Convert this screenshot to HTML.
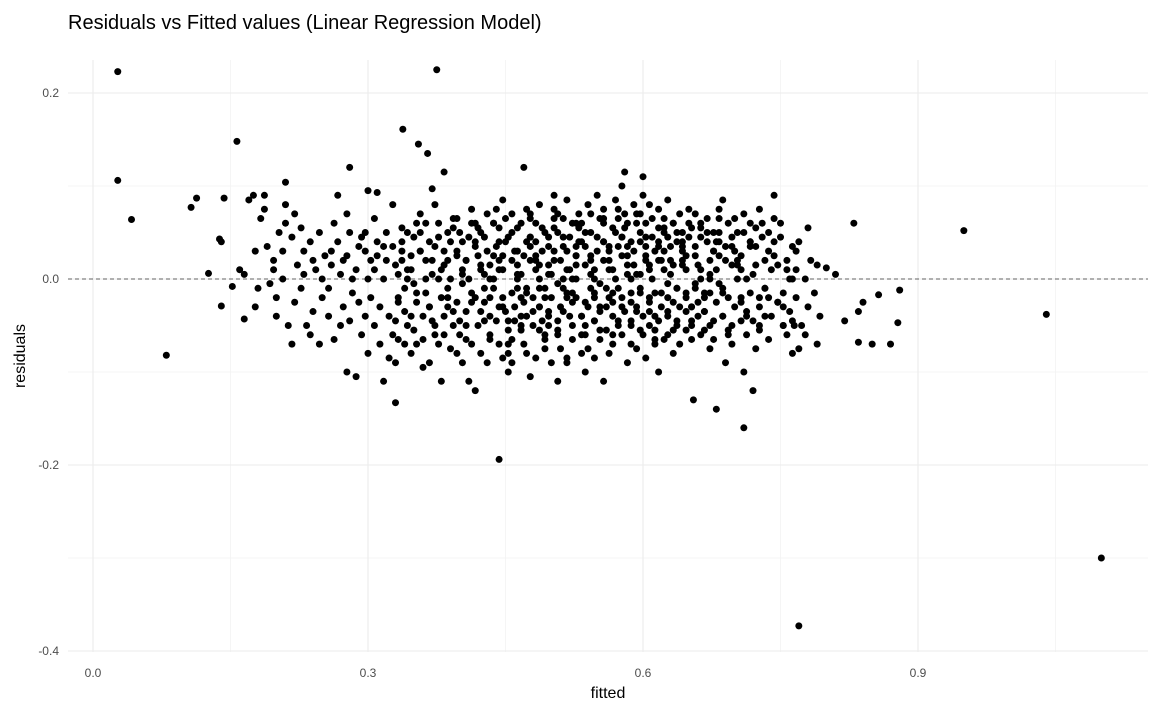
<!DOCTYPE html>
<html><head><meta charset="utf-8"><style>
html,body{margin:0;padding:0;background:#fff;}
svg{display:block;font-family:"Liberation Sans",Arial,sans-serif;}
</style></head><body>
<svg id="chart" width="1159" height="712">
<text x="68" y="29" font-size="20" fill="#000">Residuals vs Fitted values (Linear Regression Model)</text>
<g id="grid"></g>
<g id="ticks"></g>
<g id="points"></g>
<text x="608" y="698" font-size="16" text-anchor="middle" fill="#000">fitted</text>
<text transform="translate(25,356) rotate(-90)" font-size="16" text-anchor="middle" fill="#000">residuals</text>
</svg>
<script>
const xTicks=[0.0,0.3,0.6,0.9];
const xTickLabels=["0.0","0.3","0.6","0.9"];
const xMinor=[0.15,0.45,0.75,1.05];
const yTicks=[0.2,0.0,-0.2,-0.4];
const yTickLabels=["0.2","0.0","-0.2","-0.4"];
const yMinor=[0.1,-0.1,-0.3];
const outlierFitted=[0.027,0.027,0.042,0.08,0.107,0.113,0.126,0.138,0.14,0.14,0.143,0.152,0.157,0.16,0.165,0.165,0.375,0.338,0.355,0.365,0.383,0.443,0.77,1.1,0.95,1.04,0.83,0.88,0.878,0.87,0.85,0.835,0.857,0.84,0.835,0.82,0.81,0.8,0.79,0.765,0.71,0.68,0.655,0.47,0.6,0.58,0.33,0.28,0.21,0.3,0.31,0.72,0.37,0.17,0.175];
const outlierResiduals=[0.223,0.106,0.064,-0.082,0.077,0.087,0.006,0.043,0.04,-0.029,0.087,-0.008,0.148,0.01,0.005,-0.043,0.225,0.161,0.145,0.135,0.115,-0.194,-0.373,-0.3,0.052,-0.038,0.06,-0.012,-0.047,-0.07,-0.07,-0.068,-0.017,-0.025,-0.035,-0.045,0.005,0.012,-0.07,-0.05,-0.16,-0.14,-0.13,0.12,0.11,0.115,-0.133,0.12,0.104,0.095,0.093,-0.12,0.097,0.085,0.09];
const fittedLevels=[0.18,0.19,0.2,0.21,0.22,0.23,0.24,0.25,0.26,0.27,0.28,0.29,0.3,0.31,0.32,0.33,0.34,0.35,0.36,0.37,0.38,0.39,0.4,0.41,0.42,0.43,0.44,0.45,0.46,0.47,0.48,0.49,0.5,0.51,0.52,0.53,0.54,0.55,0.56,0.57,0.58,0.59,0.6,0.61,0.62,0.63,0.64,0.65,0.66,0.67,0.68,0.69,0.7,0.71,0.72,0.73,0.74,0.75,0.76,0.77,0.78,0.79];
const residualGroups=[
[0.03,-0.01,0.065,-0.03],[0.09,0.035,-0.005,0.075],[0.02,-0.04,0.05,0.01,-0.02],[0.0,0.06,-0.05,0.03,0.08],
[0.045,-0.025,0.015,-0.07,0.07],[-0.01,0.03,-0.05,0.055,0.005],[0.04,-0.035,0.01,-0.06,0.02],[0.05,-0.02,0.025,-0.07,0.0],
[-0.04,0.03,0.06,-0.01,0.015,-0.065],[0.09,0.005,-0.03,0.04,-0.05,0.02],[-0.1,0.05,-0.015,0.025,-0.045,0.0,0.07],
[-0.105,0.035,-0.06,0.01,-0.025,0.045],[0.05,-0.08,0.02,-0.04,0.0,-0.02,0.03],[-0.05,0.04,-0.07,0.01,0.025,-0.03,0.065],
[-0.11,0.02,-0.04,0.0,0.05,-0.085,0.035],[-0.06,0.015,-0.02,0.035,-0.045,0.005,0.08,-0.09],[0.03,-0.01,-0.05,0.055,-0.07,0.0,0.02,-0.035],
[-0.08,0.045,-0.025,0.01,-0.055,0.06,0.025,-0.005],[0.05,-0.04,0.0,0.03,-0.065,-0.015,0.07,-0.095],[-0.03,0.02,-0.06,0.04,0.005,0.08,-0.09,-0.045],
[0.06,-0.02,0.03,-0.07,0.01,-0.04,0.045,-0.11],[-0.01,0.04,-0.05,0.02,-0.075,0.055,-0.03,0.0],[0.03,-0.06,0.01,-0.025,0.05,-0.09,0.065,-0.045,-0.005],
[-0.035,0.045,-0.015,0.02,-0.11,0.06,-0.065,0.0,0.075],[0.04,-0.05,0.01,-0.02,0.055,-0.08,-0.12,0.025,-0.035],[-0.025,0.03,-0.06,0.005,0.07,-0.04,0.045,-0.09,0.015],
[0.06,-0.045,0.02,-0.01,0.035,-0.07,0.0,0.075,-0.03],[-0.02,0.04,-0.055,0.01,0.065,-0.08,0.025,-0.035,-0.1,0.085],[0.05,-0.03,0.015,-0.065,0.03,-0.01,0.07,-0.045,0.0,-0.09],
[-0.04,0.025,-0.015,0.06,-0.07,0.04,0.005,-0.025,0.075,-0.055],[0.035,-0.05,0.01,0.065,-0.02,-0.085,0.045,-0.035,0.02,-0.105],[-0.03,0.055,-0.06,0.015,0.03,-0.01,0.08,-0.045,-0.075,0.0],
[0.045,-0.02,0.065,-0.05,0.005,0.03,-0.035,-0.09,0.09,0.015],[-0.055,0.02,-0.01,0.05,-0.075,0.035,0.07,-0.03,0.0,-0.11],[0.03,-0.04,0.06,-0.015,0.01,-0.065,0.085,0.045,-0.025,-0.09],
[-0.02,0.04,-0.06,0.015,0.07,-0.04,0.0,0.055,-0.08,0.025],[0.05,-0.03,0.02,-0.05,0.08,-0.01,0.035,-0.075,0.005,-0.1],[-0.045,0.03,0.065,-0.02,0.045,-0.065,0.01,0.09,-0.035,0.0],
[0.04,-0.055,0.02,0.06,-0.01,-0.08,0.075,-0.03,0.03,-0.11],[-0.025,0.05,-0.045,0.01,0.085,0.035,-0.07,0.0,0.065,-0.015],[0.045,-0.035,0.025,-0.06,0.07,0.005,-0.02,0.055,-0.09,0.1],
[-0.05,0.03,0.06,-0.015,0.015,-0.075,0.04,0.08,-0.03,0.0],[0.05,-0.04,0.02,0.07,-0.06,0.035,-0.01,0.09,-0.085,0.005],[-0.025,0.045,-0.055,0.015,0.065,0.03,-0.035,0.0,-0.07,0.08],
[0.04,-0.015,0.055,-0.045,0.02,-0.065,0.075,-0.03,0.01,-0.1],[-0.04,0.035,0.06,-0.02,0.005,-0.055,0.045,0.02,-0.08,0.085],[0.05,-0.03,0.015,-0.05,0.07,0.03,-0.01,-0.07,0.04],
[-0.02,0.045,-0.045,0.01,0.06,-0.065,0.025,0.075,-0.03],[0.035,-0.04,0.055,-0.01,0.015,-0.06,0.07,-0.025,0.0],[-0.035,0.04,0.02,-0.055,0.065,0.005,-0.015,0.05,-0.075],
[0.03,-0.025,0.05,-0.045,0.01,0.075,-0.065,0.04,-0.005],[-0.04,0.02,0.06,-0.015,0.035,-0.06,0.085,-0.09],[0.045,-0.03,0.015,-0.05,0.065,0.0,-0.07,0.03],
[-0.02,0.05,-0.04,0.025,0.07,-0.06,0.01,-0.1],[0.035,-0.045,0.055,-0.015,0.005,-0.075,0.04],[-0.03,0.06,0.02,-0.055,0.045,-0.01,0.075],
[0.03,-0.04,0.065,-0.02,0.01,0.09,-0.065],[-0.025,0.045,-0.05,0.015,0.06,-0.03],[0.02,-0.035,0.035,-0.06,0.0,-0.08],
[-0.02,0.04,-0.05,0.01,-0.075],[0.0,-0.03,0.02,-0.06,0.055],[-0.015,0.015,-0.04]];
const fittedLevels2=[0.335,0.345,0.355,0.365,0.375,0.385,0.395,0.405,0.415,0.425,0.435,0.445,0.455,0.465,0.475,0.485,0.495,0.505,0.515,0.525,0.535,0.545,0.555,0.565,0.575,0.585,0.595,0.605,0.615,0.625,0.635,0.645,0.655,0.665,0.675,0.685,0.695,0.705,0.715,0.725,0.735,0.745,0.755,0.765];
const residualGroups2=[
[-0.025,0.04,-0.065],[0.01,-0.04,0.05],[-0.015,0.03,-0.07],[0.02,-0.03,0.06],[-0.05,0.0,0.035],
[0.015,-0.02,-0.06,0.05],[-0.035,0.025,0.065,-0.08],[0.005,-0.05,0.04,0.02],[-0.025,0.035,-0.07,0.06],[0.015,-0.045,0.05,-0.01],
[-0.02,0.025,-0.065,0.06,0.0],[0.04,-0.03,0.01,-0.085,0.055],[-0.045,0.02,0.045,-0.015,-0.07],[0.03,-0.02,0.055,-0.05,0.005],
[-0.01,0.045,-0.04,0.02,-0.08,0.07],[0.025,-0.055,0.04,-0.01,0.06,-0.03],[-0.02,0.035,-0.065,0.005,0.05,-0.04],
[0.02,-0.045,0.055,-0.005,0.075,-0.06],[-0.035,0.01,0.045,-0.02,0.065,-0.085],[0.0,0.035,-0.05,0.025,-0.015,0.06],
[-0.04,0.015,0.06,-0.025,0.04,-0.06],[0.025,-0.015,0.05,-0.045,0.07,-0.085],[-0.005,0.04,-0.03,0.02,-0.055,0.065],
[0.035,-0.04,0.01,0.055,-0.02,-0.06],[-0.01,0.025,-0.05,0.045,0.075,-0.03],[0.015,-0.025,0.06,-0.045,0.035,-0.07],
[-0.035,0.04,0.005,-0.015,0.07,-0.055],[0.025,-0.05,0.045,-0.02,0.06,0.01],[-0.015,0.035,-0.04,0.055,-0.065,0.02],
[0.03,-0.005,0.05,-0.035,0.065,-0.06],[-0.025,0.04,0.015,-0.045,0.06,-0.01],[0.02,-0.035,0.05,-0.015,0.035,-0.055],
[-0.03,0.025,0.055,-0.005,-0.05],[0.01,-0.035,0.045,-0.02,0.06],[-0.015,0.03,-0.05,0.05,0.0],[0.025,-0.04,0.04,-0.01,0.065],
[-0.02,0.035,-0.055,0.015],[0.02,-0.025,0.05,-0.045],[-0.035,0.04,0.0,0.06],[0.015,-0.02,0.035,-0.05],
[-0.01,0.05,-0.04],[0.025,-0.025,0.04],[-0.015,0.01,-0.05],[0.0,0.03,-0.045]];

const NS="http://www.w3.org/2000/svg";
const plot={left:68,right:1148,top:60,bottom:652};
function xs(v){return 93+v*916.67;}
function ys(v){return 279-v*930;}
function mk(tag,attrs,parent){const e=document.createElementNS(NS,tag);for(const k in attrs)e.setAttribute(k,attrs[k]);parent.appendChild(e);return e;}
const grid=document.getElementById('grid'),ticks=document.getElementById('ticks'),pts=document.getElementById('points');
xMinor.forEach(v=>{const l=mk('line',{x1:xs(v),x2:xs(v),y1:plot.top,y2:plot.bottom,stroke:'#f3f3f3','stroke-width':0.8},grid);

});
yMinor.forEach(v=>{const l=mk('line',{x1:plot.left,x2:plot.right,y1:ys(v),y2:ys(v),stroke:'#f3f3f3','stroke-width':0.8},grid);

});
xTicks.forEach((v,i)=>{const l=mk('line',{x1:xs(v),x2:xs(v),y1:plot.top,y2:plot.bottom,stroke:'#ebebeb','stroke-width':1.1},grid);


const t=mk('text',{x:xs(v),y:677,'font-size':12,'text-anchor':'middle',fill:'#4d4d4d'},ticks);t.textContent=xTickLabels[i];

});
yTicks.forEach((v,i)=>{const l=mk('line',{x1:plot.left,x2:plot.right,y1:ys(v),y2:ys(v),stroke:'#ebebeb','stroke-width':1.1},grid);


const t=mk('text',{x:59,y:ys(v)+4,'font-size':12,'text-anchor':'end',fill:'#4d4d4d'},ticks);t.textContent=yTickLabels[i];

});
const z=mk('line',{x1:plot.left,x2:plot.right,y1:ys(0),y2:ys(0),stroke:'#333','stroke-width':0.8,'stroke-dasharray':'4,3'},grid);


function dot(f,r){const c=mk('circle',{cx:xs(f),cy:ys(r),r:3.5,fill:'#000'},pts);

}
fittedLevels.forEach((f,i)=>residualGroups[i].forEach((r,j)=>dot(f+((j%3)-1)*0.003,r)));
fittedLevels2.forEach((f,i)=>residualGroups2[i].forEach((r,j)=>dot(f+((j%2)?0.002:-0.002),r)));
outlierFitted.forEach((f,i)=>dot(f,outlierResiduals[i]));
</script>
</body></html>
